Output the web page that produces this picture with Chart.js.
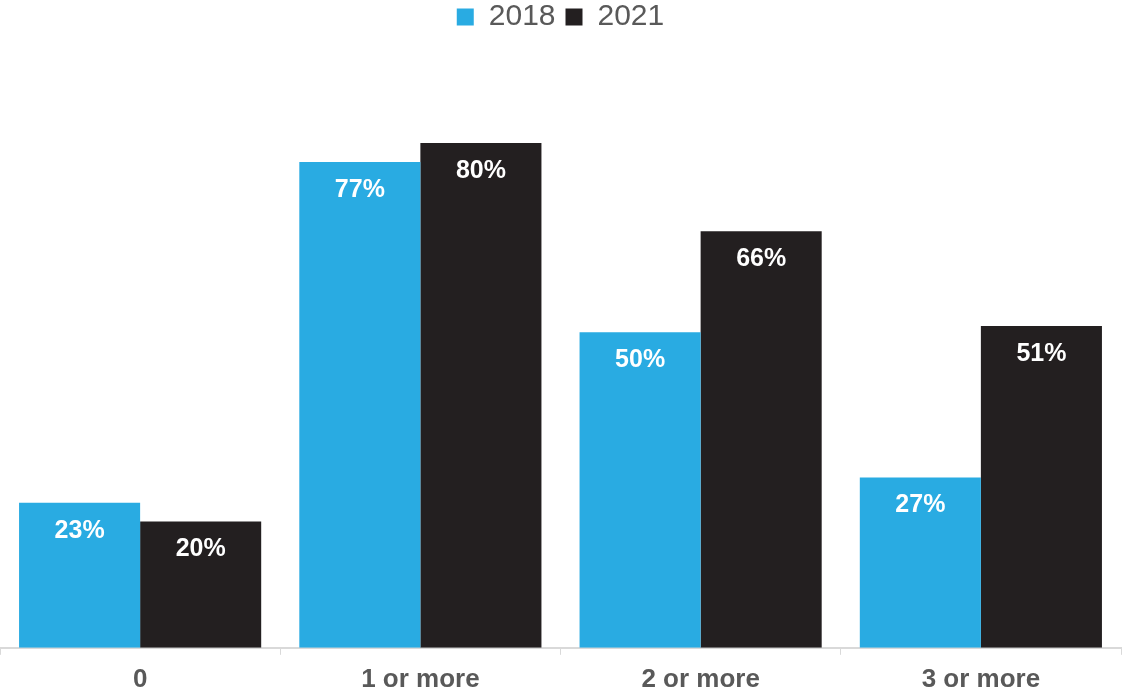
<!DOCTYPE html>
<html>
<head>
<meta charset="utf-8">
<script src="https://cdn.jsdelivr.net/npm/chart.js@4"></script>
<style>
  html, body { margin: 0; padding: 0; background: #fff; overflow: hidden; }
  /* canvas a bit taller than the window so the spare legend/axis padding is cropped */
  #wrap { position: absolute; left: 0; top: -8px; width: 1122px; height: 712px; }
</style>
</head>
<body>
<div id="wrap"><canvas id="chart"></canvas></div>
<script>
var categories = ['0', '1 or more', '2 or more', '3 or more'];
var values2018 = [23, 77, 50, 27];
var values2021 = [20, 80, 66, 51];
var seriesNames = ['2018', '2021'];

// draws the white % labels just inside the top of each bar
var barLabels = {
    id: 'barLabels',
    afterDatasetsDraw: function(chart) {
        var ctx = chart.ctx;
        ctx.save();
        ctx.fillStyle = '#ffffff';
        ctx.font = 'bold 25px Arial, "Liberation Sans", sans-serif';
        ctx.textAlign = 'center';
        ctx.textBaseline = 'middle';
        chart.data.datasets.forEach(function(ds, i) {
            chart.getDatasetMeta(i).data.forEach(function(bar, j) {
                ctx.fillText(ds.data[j] + '%', bar.x, bar.y + 28);
            });
        });
        ctx.restore();
    }
};

var ctx = document.getElementById('chart');
new Chart(ctx, {
    type: 'bar',
    data: {
        labels: categories,
        datasets: [{
            label: seriesNames[0],
            data: values2018,
            backgroundColor: '#29ABE2',
            categoryPercentage: 0.864,
            barPercentage: 1.0
        }, {
            label: seriesNames[1],
            data: values2021,
            backgroundColor: '#231F20',
            categoryPercentage: 0.864,
            barPercentage: 1.0
        }]
    },
    options: {
        responsive: true,
        maintainAspectRatio: false,
        animation: false,
        layout: { padding: { left: 0, right: 1, top: 0, bottom: 0 } },
        plugins: {
            legend: {
                position: 'top',
                labels: {
                    boxWidth: 17,
                    boxHeight: 17,
                    padding: 10,
                    color: '#595959',
                    font: { size: 30, lineHeight: 1.0, family: 'Arial, "Liberation Sans", sans-serif' }
                }
            },
            tooltip: { enabled: false }
        },
        scales: {
            x: {
                grid: { drawOnChartArea: false, tickLength: 7, color: '#d9d9d9', offset: true },
                border: { color: '#d9d9d9', width: 2 },
                ticks: {
                    padding: 9,
                    color: '#595959',
                    font: { size: 26, weight: 'bold', family: 'Arial, "Liberation Sans", sans-serif' }
                }
            },
            y: {
                display: false,
                min: 0,
                max: 96
            }
        }
    },
    plugins: [barLabels]
});
</script>
</body>
</html>
